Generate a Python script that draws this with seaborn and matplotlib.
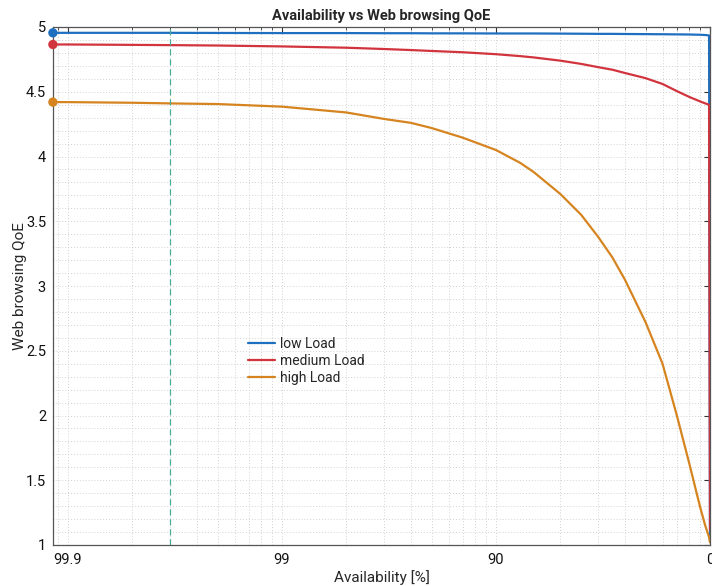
import numpy as np
import pandas as pd
import matplotlib
matplotlib.use("Agg")
import matplotlib.pyplot as plt
from matplotlib.ticker import FixedLocator, FixedFormatter, LogLocator, NullFormatter, MultipleLocator
import seaborn as sns

# ---- data (availability in %, QoE) ----
availability = [99.915, 99.9, 99.8, 99.7, 99.5, 99.0, 98.0, 97.0, 96.0, 95.0, 93.0, 90.0,
                87.0, 85.0, 80.0, 75.0, 70.0, 65.0, 60.0, 50.0, 40.0, 30.0, 20.0, 10.0, 5.0, 1.0, 0.0]
qoe_low = [4.955, 4.955, 4.955, 4.955, 4.954, 4.953, 4.953, 4.952, 4.952, 4.951, 4.951, 4.950,
           4.950, 4.950, 4.949, 4.948, 4.947, 4.947, 4.946, 4.945, 4.944, 4.943, 4.942, 4.940, 4.938, 4.935, 1.03]
qoe_medium = [4.865, 4.865, 4.862, 4.860, 4.857, 4.850, 4.840, 4.830, 4.822, 4.815, 4.805, 4.790,
              4.775, 4.765, 4.740, 4.715, 4.690, 4.670, 4.645, 4.605, 4.560, 4.505, 4.460, 4.425, 4.410, 4.400, 1.12]
qoe_high = [4.420, 4.420, 4.415, 4.410, 4.405, 4.385, 4.340, 4.290, 4.260, 4.220, 4.145, 4.050,
            3.950, 3.880, 3.710, 3.550, 3.380, 3.220, 3.050, 2.720, 2.400, 2.000, 1.630, 1.290, 1.150, 1.060, 1.02]
series_names = ["low Load", "medium Load", "high Load"]
colors = ["#1f6fc0", "#d2343d", "#d6841f"]
x_tick_vals = [0.1, 1, 10, 100]
x_tick_labels = ["99.9", "99", "90", "0"]
y_tick_vals = [1, 1.5, 2, 2.5, 3, 3.5, 4, 4.5, 5]
y_tick_labels = ["1", "1.5", "2", "2.5", "3", "3.5", "4", "4.5", "5"]
marker_availability = 99.7

frames = []
for name, vals in zip(series_names, [qoe_low, qoe_medium, qoe_high]):
    frames.append(pd.DataFrame({"Availability": availability, "QoE": vals, "Series": name}))
df = pd.concat(frames, ignore_index=True)
df["Unavailability"] = 100.0 - df["Availability"]

sns.set_style("white")
plt.rcParams["font.family"] = ["Roboto", "DejaVu Sans"]

fig = plt.figure(figsize=(7.12, 5.86), dpi=100)
ax = fig.add_axes([53 / 712, 1 - 545 / 586, (710 - 53) / 712, (545 - 27) / 586])

palette = dict(zip(series_names, colors))
sns.lineplot(data=df, x="Unavailability", y="QoE", hue="Series", palette=palette,
             sort=False, estimator=None, linewidth=1.6, ax=ax)
first = df.groupby("Series", sort=False).head(1)
sns.scatterplot(data=first, x="Unavailability", y="QoE", hue="Series", palette=palette,
                s=45, edgecolor="none", legend=False, ax=ax, zorder=5, clip_on=False)

ax.axvline(100 - marker_availability, color="#48ad98", linestyle=(0, (5, 3)), linewidth=0.9)

ax.set_xscale("log")
ax.set_xlim(0.0851, 100)
ax.set_ylim(1, 5)

ax.xaxis.set_major_locator(FixedLocator(x_tick_vals))
ax.xaxis.set_major_formatter(FixedFormatter(x_tick_labels))
ax.xaxis.set_minor_locator(LogLocator(base=10, subs=np.arange(2, 10)))
ax.xaxis.set_minor_formatter(NullFormatter())
ax.yaxis.set_major_locator(FixedLocator(y_tick_vals))
ax.yaxis.set_major_formatter(FixedFormatter(y_tick_labels))
ax.yaxis.set_minor_locator(MultipleLocator(0.1))

ax.tick_params(axis="both", which="both", direction="in", top=True, right=True,
               colors="#333333", labelcolor="#111111")
ax.tick_params(axis="both", which="major", length=4, width=0.8, labelsize=10.5)
ax.tick_params(axis="x", which="minor", length=2.5, width=0.6)
ax.tick_params(axis="y", which="minor", length=0)
ax.tick_params(axis="x", which="major", pad=6)
ax.tick_params(axis="y", which="major", pad=5)

ax.grid(True, which="both", linestyle=(0, (1, 2)), color="#d2d2d2", linewidth=0.7)
for s in ax.spines.values():
    s.set_color("#555555")
    s.set_linewidth(0.9)

ax.set_title("Availability vs Web browsing QoE", fontsize=10.5, fontweight="bold", pad=5)
ax.set_xlabel("Availability [%]", fontsize=11, labelpad=2)
ax.set_ylabel("Web browsing QoE", fontsize=11)
ax.yaxis.set_label_coords(-0.04, 0.5)

leg = ax.legend(loc="upper left", bbox_to_anchor=(0.278, 0.425), frameon=False,
                fontsize=10, handlelength=1.9, handletextpad=0.4, labelspacing=0.2,
                title=None)
for line in leg.get_lines():
    line.set_linewidth(1.6)

fig.savefig("out.png", dpi=100)
